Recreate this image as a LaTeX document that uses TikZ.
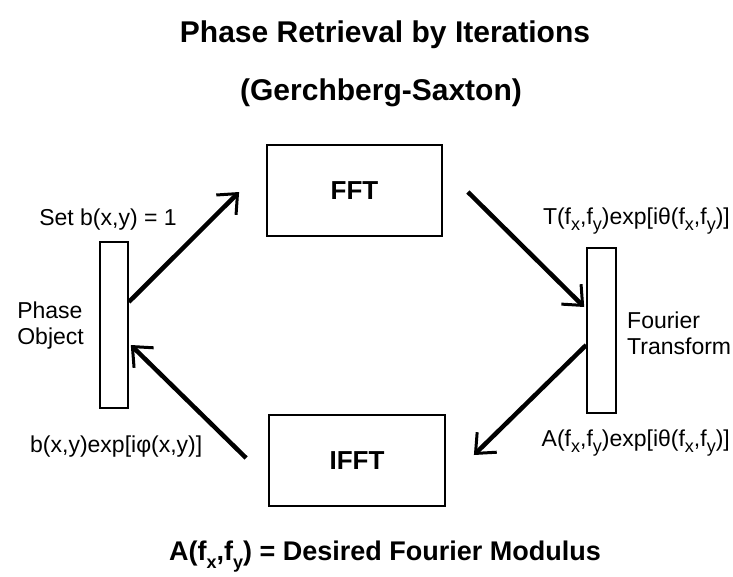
\documentclass[tikz,border=0pt]{standalone}
\usepackage{fontspec}
\setmainfont{Liberation Sans}
\usetikzlibrary{arrows.meta}
\newcommand\lowsub[1]{\raisebox{-0.3em}{\fontsize{18}{18}\selectfont #1}}
\begin{document}
\begin{tikzpicture}[x=1pt,y=-1pt,
  box/.style={draw, line width=1.8pt, rectangle, inner sep=0pt},
  bar/.style={draw, line width=1.6pt, rectangle, inner sep=0pt, minimum width=28pt, minimum height=166pt},
  arr/.style={line width=4.5pt, -{Straight Barb[length=16pt,width=28pt,line width=3pt]}},
  lbl/.style={font=\fontsize{23}{26}\selectfont, inner sep=0pt},
  ttl/.style={font=\fontsize{30}{34}\selectfont\bfseries, inner sep=0pt},
  boxtxt/.style={font=\fontsize{26}{30}\selectfont\bfseries}]
\useasboundingbox (0,0) rectangle (733,576);
\fill[white] (0,0) rectangle (733,576);

\node[ttl, anchor=base] (title) at (385,42) {Phase Retrieval by Iterations};
\node[ttl, anchor=base] (sub) at (381,100) {(Gerchberg-Saxton)};

\node[box, minimum width=175pt, minimum height=91pt, boxtxt] (fft) at (354.5,190.5) {FFT};
\node[box, minimum width=176pt, minimum height=91pt, boxtxt] (ifft) at (357,460.5) {IFFT};
\node[bar] (lbar) at (114,325) {};
\node[bar, minimum width=29pt, minimum height=165pt] (rbar) at (601.5,330.5) {};

\draw[arr] ([yshift=23pt]lbar.east) -- ([xshift=-27pt,yshift=-1.5pt]fft.west);
\draw[arr] ([xshift=25pt,yshift=-1.5pt]fft.east) -- ([xshift=-2pt,yshift=23.5pt]rbar.west);
\draw[arr] ([yshift=-14.5pt]rbar.west) -- ([xshift=28pt,yshift=5.5pt]ifft.east);
\draw[arr] ([xshift=-22pt,yshift=2.5pt]ifft.west) -- ([xshift=2pt,yshift=-20pt]lbar.east);

\node[lbl, anchor=base] (setb) at (108,225) {Set b(x,y) = 1};
\node[lbl, anchor=east, align=left] (phobj) at (84,326) {Phase\\Object};
\node[lbl, anchor=base west] (bexp) at (30,452) {b(x,y)exp[i\char"03C6(x,y)]};
\node[lbl, anchor=base east] (texp) at (730,224) {T(f\lowsub{x},f\lowsub{y})exp[i\char"03B8(f\lowsub{x},f\lowsub{y})]};
\node[lbl, anchor=west, align=left] (ft) at (627,333) {Fourier\\Transform};
\node[lbl, anchor=base east] (aexp) at (730,446) {A(f\lowsub{x},f\lowsub{y})exp[i\char"03B8(f\lowsub{x},f\lowsub{y})]};
\node[font=\fontsize{27}{30}\selectfont\bfseries, inner sep=0pt, anchor=base] (modulus) at (385,560)
  {A(f\lowsub{x},f\lowsub{y}) = Desired Fourier Modulus};
\end{tikzpicture}
\end{document}
